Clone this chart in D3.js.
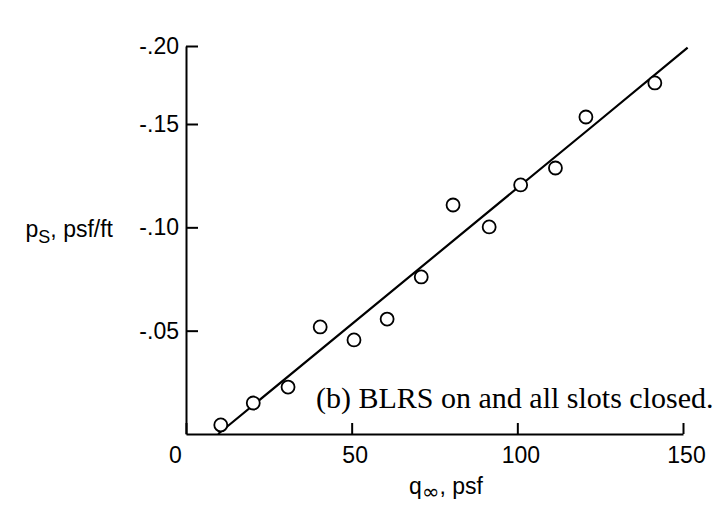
<!DOCTYPE html>
<meta charset="utf-8">
<style>
  body { margin: 0; background: #fff; }
  .tick text, .lab { font-family: "Liberation Sans", Arial, sans-serif; font-size: 23px; fill: #000; }
  .caption { font-family: "Liberation Serif", "Times New Roman", serif; font-size: 30px; fill: #000; }
</style>
<script src="https://d3js.org/d3.v7.min.js"></script>
<div id="my_dataviz"></div>
<script>
// dynamic pressure, psf
var qInf = [10.5, 20.3, 30.8, 40.5, 50.7, 60.7, 71, 80.6, 91.5, 101, 111.5, 120.7, 141.5];
// pressure gradient, psf/ft
var pS = [-0.0044, -0.0150, -0.0227, -0.0518, -0.0455, -0.0556, -0.0760, -0.1108, -0.1002, -0.1205, -0.1287, -0.1545, -0.1763];
// faired line through the data
var fitQ = [9.7, 123.5, 151.4];
var fitP = [0, -0.15, -0.199];
var xTicks = [0, 50, 100, 150];
var yTicks = [-0.05, -0.10, -0.15, -0.20];

var width = 722, height = 508;

var svg = d3.select("#my_dataviz")
  .append("svg")
    .attr("width", width)
    .attr("height", height);

var x = d3.scaleLinear()
  .domain([0, 150])
  .range([186, 683]);

// the scanned figure is squeezed a bit above -.15
var y = d3.scaleLinear()
  .domain([0, -0.15, -0.20])
  .range([434, 124, 46]);

var xAxis = svg.append("g")
  .attr("transform", "translate(0," + y(0) + ")")
  .call(d3.axisBottom(x)
    .tickValues(xTicks)
    .tickSizeInner(-11)
    .tickSizeOuter(0)
    .tickPadding(13)
    .tickFormat(d3.format("d")));

xAxis.selectAll(".tick text")
  .attr("dx", function(d) { return d === 0 ? -11 : 3; });

var yAxis = svg.append("g")
  .attr("transform", "translate(" + x(0) + ",0)")
  .call(d3.axisLeft(y)
    .tickValues(yTicks)
    .tickSizeInner(-12)
    .tickSizeOuter(0)
    .tickPadding(7)
    .tickFormat(function(d) { return d3.format(".2f")(d).replace("\u2212", "-").replace("0.", "."); }));

svg.selectAll(".domain, .tick line")
  .attr("stroke", "#000")
  .attr("stroke-width", 2);

// faired line
var fit = fitQ.map(function(d, i) { return [d, fitP[i]]; });
svg.append("path")
  .datum(fit)
  .attr("fill", "none")
  .attr("stroke", "#000")
  .attr("stroke-width", 2.2)
  .attr("d", d3.line()
    .x(function(d) { return x(d[0]); })
    .y(function(d) { return y(d[1]); }));

svg.selectAll("circle.pt")
  .data(qInf)
  .enter()
  .append("circle")
    .attr("class", "pt")
    .attr("cx", function(d) { return x(d); })
    .attr("cy", function(d, i) { return y(pS[i]); })
    .attr("r", 6.5)
    .attr("fill", "#fff")
    .attr("stroke", "#000")
    .attr("stroke-width", 1.8);

// axis titles
var yl = svg.append("text")
  .attr("class", "lab")
  .attr("text-anchor", "end")
  .attr("x", 113)
  .attr("y", 237);
yl.append("tspan").text("p");
yl.append("tspan").attr("font-size", "18px").attr("dy", 6).text("S");
yl.append("tspan").attr("dy", -6).text(", psf/ft");

var xl = svg.append("text")
  .attr("class", "lab")
  .attr("text-anchor", "middle")
  .attr("x", 446)
  .attr("y", 494);
xl.append("tspan").text("q");
xl.append("tspan").attr("font-family", "DejaVu Sans").attr("font-size", "21px").attr("dy", 5).text("∞");
xl.append("tspan").attr("dy", -5).text(", psf");

svg.append("text")
  .attr("class", "caption")
  .attr("x", 316)
  .attr("y", 408)
  .text("(b) BLRS on and all slots closed.");
</script>
